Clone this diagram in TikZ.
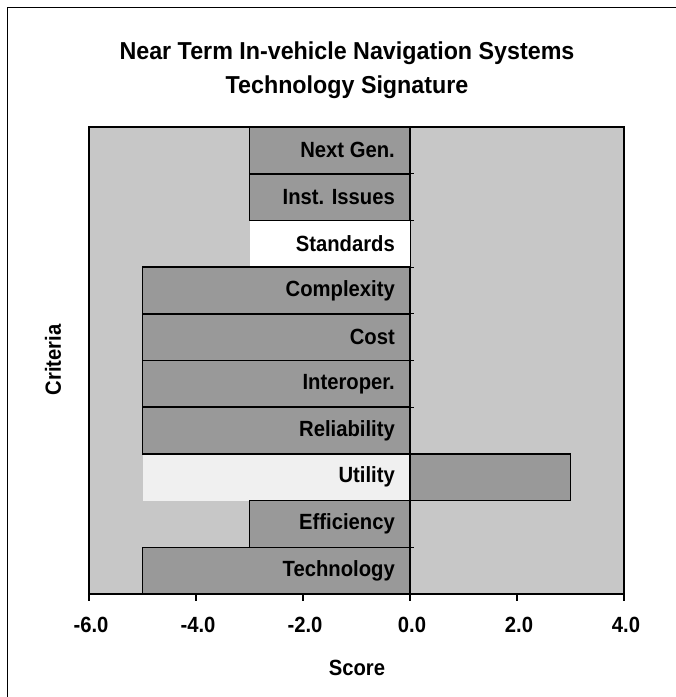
\documentclass[tikz,border=0pt]{standalone}
\usepackage{fontspec}
\setmainfont{Liberation Sans}
\newfontfamily\titlefont[FakeStretch=0.95]{Liberation Sans}
\newfontfamily\catfont[FakeStretch=0.92]{Liberation Sans}
\newfontfamily\tickfont[FakeStretch=0.92]{Liberation Sans}

\begin{document}
\begin{tikzpicture}[x=1pt,y=-1pt,
  plotbg/.style={fill=black!22},
  lightrow/.style={fill=black!6},
  barbox/.style={fill=black!40,draw=black,line width=1.6pt},
  catlabel/.style={anchor=east,inner sep=0pt,font=\catfont\bfseries\fontsize{22}{24}\selectfont},
  ticklabel/.style={anchor=center,inner sep=0pt,font=\tickfont\bfseries\fontsize{22}{24}\selectfont},
  titletext/.style={anchor=center,inner sep=0pt,font=\titlefont\bfseries\fontsize{24.5}{26}\selectfont},
  axistitle/.style={anchor=center,inner sep=0pt,font=\catfont\bfseries\fontsize{22}{24}\selectfont}]

\useasboundingbox (0,0) rectangle (676,697);
\fill[white] (0,0) rectangle (676,697);

% page frame
\draw[line width=1.5pt] (7.3,700) -- (7.3,7.3) -- (680,7.3);

% titles
\node[titletext] (title1) at (347,53) {Near Term In-vehicle Navigation Systems};
\node[titletext] (title2) at (347,87) {Technology Signature};

% plot area
\fill[plotbg] (89,127) rectangle (624,594);
\fill[white] (249.5,{127+46.7*2}) rectangle (410,{127+46.7*3});
\fill[lightrow] (142.5,{127+46.7*7}) rectangle (410,{127+46.7*8});

% bars (row index / score)
\foreach \i/\v in {0/-3,1/-3,3/-5,4/-5,5/-5,6/-5,7/3,8/-3,9/-5}
  \draw[barbox] (410,{127+46.7*\i}) rectangle ({410+53.5*\v},{127+46.7*(\i+1)});

% category axis at zero
\draw[line width=1pt] (410,127) -- (410,594);
\foreach \i in {1,...,9}
  \draw[line width=0.8pt] (410,{127+46.7*\i}) -- ++(4,0);

% category labels
\foreach \t [count=\i from 0] in {Next Gen.,Inst. Issues,Standards,Complexity,Cost,Interoper.,Reliability,Utility,Efficiency,Technology}
  \node[catlabel] (cat\i) at (395,{127+46.7*(\i+0.5)}) {\t};

% plot border and value axis
\draw[line width=1.5pt] (89,594) -- (89,127) -- (624,127) -- (624,594);
\draw[line width=2pt] (88,594) -- (625,594);
\foreach \v [count=\k] in {-6,-4,...,4} {
  \draw[line width=1.3pt] ({410+53.5*\v},594) -- ++(0,7);
  \node[ticklabel] (tick\k) at ({412+53.5*\v},625) {\v.0};
}

% axis titles
\node[axistitle] (xtitle) at (357,668) {Score};
\node[axistitle,rotate=90] (ytitle) at (53,360) {Criteria};
\end{tikzpicture}
\end{document}
